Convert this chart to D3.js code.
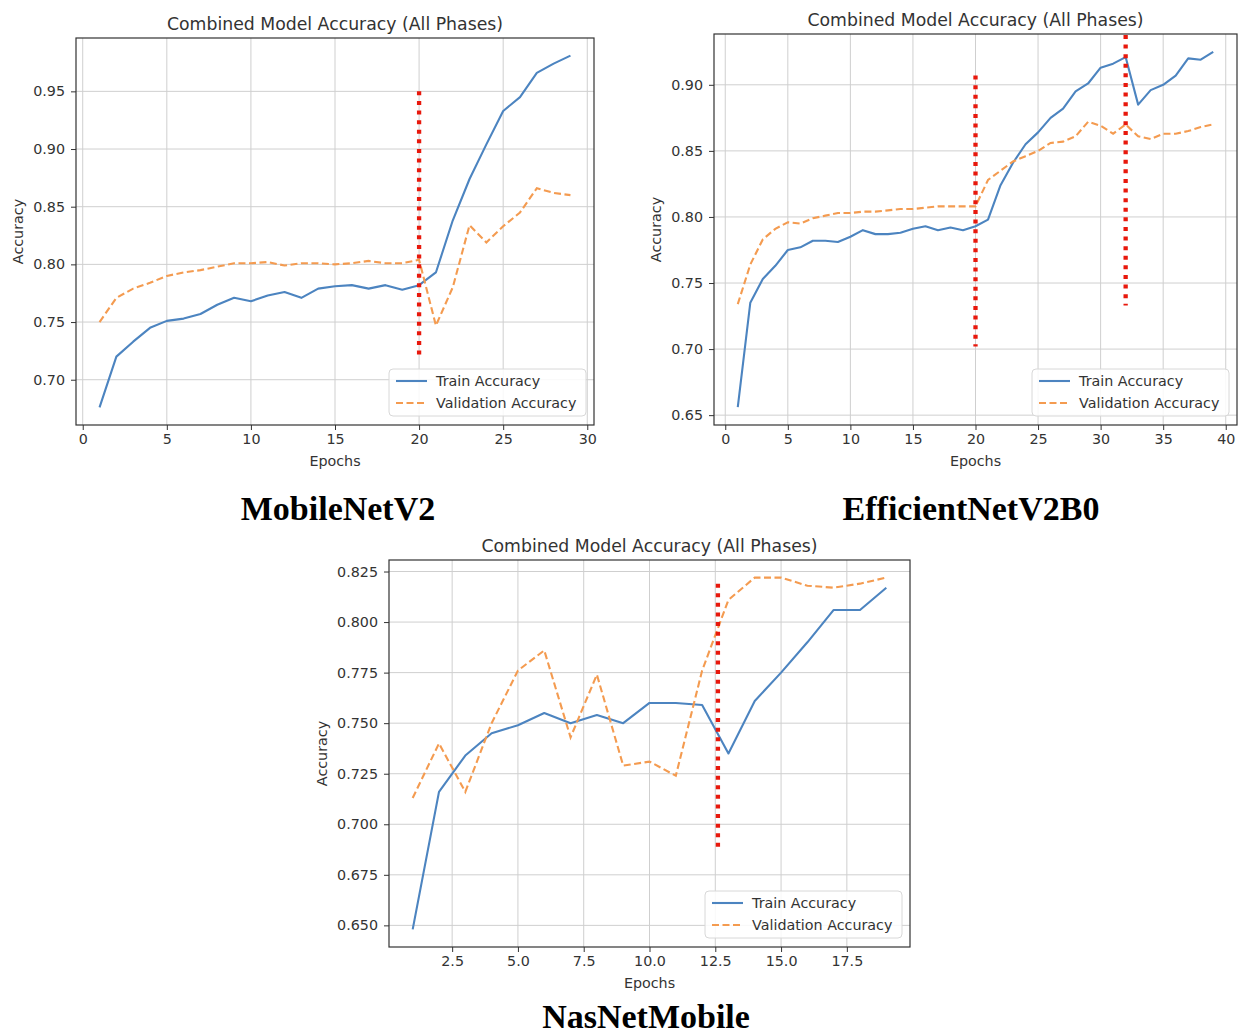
<!DOCTYPE html>
<html>
<head>
<meta charset="utf-8">
<script src="https://cdn.jsdelivr.net/npm/d3@7"></script>
<style>
  body { margin: 0; background: #fff; }
  svg { display: block; }
  text { font-family: "DejaVu Sans", sans-serif; fill: #333; }
  .caption { font-family: "Liberation Serif", "Times New Roman", serif; font-weight: bold; fill: #000; }
</style>
</head>
<body>
<svg id="chart" width="1238" height="1034"></svg>
<script>
// MobileNetV2, epochs 1..29
const mobileEpochs = d3.range(1, 30);
const mobileTrain = [0.676, 0.720, 0.733, 0.745, 0.751, 0.753, 0.757, 0.765, 0.771, 0.768,
  0.773, 0.776, 0.771, 0.779, 0.781, 0.782, 0.779, 0.782, 0.778, 0.782,
  0.793, 0.838, 0.874, 0.904, 0.933, 0.945, 0.966, 0.974, 0.981];
const mobileVal = [0.750, 0.771, 0.779, 0.784, 0.790, 0.793, 0.795, 0.798, 0.801, 0.801,
  0.802, 0.799, 0.801, 0.801, 0.800, 0.801, 0.803, 0.801, 0.801, 0.804,
  0.747, 0.780, 0.834, 0.819, 0.833, 0.845, 0.866, 0.862, 0.860];
const mobilePhases = [{ x: 20, y0: 0.718, y1: 0.950 }];
const mobileXTicks = [0, 5, 10, 15, 20, 25, 30];
const mobileYTicks = [0.70, 0.75, 0.80, 0.85, 0.90, 0.95];

// EfficientNetV2B0, epochs 1..39
const effEpochs = d3.range(1, 40);
const effTrain = [0.656, 0.735, 0.753, 0.763, 0.775, 0.777, 0.782, 0.782, 0.781, 0.785,
  0.790, 0.787, 0.787, 0.788, 0.791, 0.793, 0.790, 0.792, 0.790, 0.793,
  0.798, 0.824, 0.841, 0.855, 0.864, 0.875, 0.882, 0.895, 0.901, 0.913,
  0.916, 0.921, 0.885, 0.896, 0.900, 0.907, 0.920, 0.919, 0.925];
const effVal = [0.734, 0.764, 0.783, 0.791, 0.796, 0.795, 0.799, 0.801, 0.803, 0.803,
  0.804, 0.804, 0.805, 0.806, 0.806, 0.807, 0.808, 0.808, 0.808, 0.808,
  0.828, 0.835, 0.842, 0.846, 0.850, 0.856, 0.857, 0.861, 0.872, 0.869,
  0.863, 0.870, 0.861, 0.859, 0.863, 0.863, 0.865, 0.868, 0.870];
const effPhases = [{ x: 20, y0: 0.702, y1: 0.907 }, { x: 32, y0: 0.733, y1: 0.945 }];
const effXTicks = [0, 5, 10, 15, 20, 25, 30, 35, 40];
const effYTicks = [0.65, 0.70, 0.75, 0.80, 0.85, 0.90];

// NasNetMobile, epochs 1..19
const nasEpochs = d3.range(1, 20);
const nasTrain = [0.648, 0.716, 0.734, 0.745, 0.749, 0.755, 0.750, 0.754, 0.750, 0.760,
  0.760, 0.759, 0.735, 0.761, 0.775, 0.790, 0.806, 0.806, 0.817];
const nasVal = [0.713, 0.740, 0.716, 0.750, 0.776, 0.786, 0.743, 0.774, 0.729, 0.731,
  0.724, 0.776, 0.811, 0.822, 0.822, 0.818, 0.817, 0.819, 0.822];
const nasPhases = [{ x: 12.6, y0: 0.686, y1: 0.819 }];
const nasXTicks = [2.5, 5.0, 7.5, 10.0, 12.5, 15.0, 17.5];
const nasYTicks = [0.650, 0.675, 0.700, 0.725, 0.750, 0.775, 0.800, 0.825];

const seriesNames = ['Train Accuracy', 'Validation Accuracy'];
const titleText = 'Combined Model Accuracy (All Phases)';

const blue = '#4c84c0';
const orange = '#f49b50';
const red = '#e8180c';
const fs = 14.3;

const svg = d3.select('#chart');

function panel(opt) {
  const { box, epochs, train, val, phases, xTicks, yTicks, xFmt, yFmt, caption } = opt;
  const [left, top, right, bottom] = box;

  // matplotlib-style 5% margins around the data
  const xExt = d3.extent(epochs);
  const xPad = (xExt[1] - xExt[0]) * 0.05;
  const yExt = d3.extent(train.concat(val));
  const yPad = (yExt[1] - yExt[0]) * 0.05;

  const x = d3.scaleLinear().domain([xExt[0] - xPad, xExt[1] + xPad]).range([left, right]);
  const y = d3.scaleLinear().domain([yExt[0] - yPad, yExt[1] + yPad]).range([bottom, top]);

  const g = svg.append('g');
  const clipId = 'clip' + Math.round(left);
  g.append('clipPath').attr('id', clipId)
    .append('rect').attr('x', left).attr('y', top).attr('width', right - left).attr('height', bottom - top);

  // grid
  g.append('g').attr('stroke', '#cfcfcf').attr('stroke-width', 1)
    .selectAll('line').data(xTicks).join('line')
    .attr('x1', d => x(d)).attr('x2', d => x(d)).attr('y1', top).attr('y2', bottom);
  g.append('g').attr('stroke', '#cfcfcf').attr('stroke-width', 1)
    .selectAll('line').data(yTicks).join('line')
    .attr('y1', d => y(d)).attr('y2', d => y(d)).attr('x1', left).attr('x2', right);

  const plot = g.append('g').attr('clip-path', `url(#${clipId})`);
  const line = d3.line().x(d => x(d[0])).y(d => y(d[1]));

  plot.append('path')
    .datum(epochs.map((e, i) => [e, train[i]]))
    .attr('fill', 'none').attr('stroke', blue).attr('stroke-width', 2.1)
    .attr('stroke-linejoin', 'round')
    .attr('d', line);

  plot.append('path')
    .datum(epochs.map((e, i) => [e, val[i]]))
    .attr('fill', 'none').attr('stroke', orange).attr('stroke-width', 2.1)
    .attr('stroke-dasharray', '7,3.5')
    .attr('d', line);

  plot.selectAll('line.phase').data(phases).join('line')
    .attr('class', 'phase')
    .attr('x1', d => x(d.x)).attr('x2', d => x(d.x))
    .attr('y1', d => y(d.y1)).attr('y2', d => y(d.y0))
    .attr('stroke', red).attr('stroke-width', 4.3)
    .attr('stroke-dasharray', '4,5.6');

  // axes
  const xAxis = g.append('g').attr('transform', `translate(0,${bottom})`)
    .call(d3.axisBottom(x).tickValues(xTicks).tickFormat(d3.format(xFmt)).tickSize(5).tickPadding(4));
  const yAxis = g.append('g').attr('transform', `translate(${left},0)`)
    .call(d3.axisLeft(y).tickValues(yTicks).tickFormat(d3.format(yFmt)).tickSize(5).tickPadding(6));
  [xAxis, yAxis].forEach(a => {
    a.select('.domain').remove();
    a.selectAll('line').attr('stroke', '#333');
    a.selectAll('text').attr('font-size', fs).attr('fill', '#333')
      .attr('font-family', '"DejaVu Sans", sans-serif');
  });

  // frame
  g.append('rect').attr('x', left).attr('y', top).attr('width', right - left).attr('height', bottom - top)
    .attr('fill', 'none').attr('stroke', '#333').attr('stroke-width', 1.2);

  // labels
  g.append('text').attr('x', (left + right) / 2).attr('y', top - 8)
    .attr('text-anchor', 'middle').attr('font-size', 17.3).text(titleText);
  g.append('text').attr('x', (left + right) / 2).attr('y', bottom + 41)
    .attr('text-anchor', 'middle').attr('font-size', fs).text('Epochs');
  const yb = yAxis.node().getBBox();
  g.append('text')
    .attr('transform', `translate(${left + yb.x - 10},${(top + bottom) / 2}) rotate(-90)`)
    .attr('text-anchor', 'middle').attr('font-size', fs).text('Accuracy');

  // legend, lower right
  const lw = 197, lh = 47;
  const lx = right - 8 - lw, ly = bottom - 9 - lh;
  const leg = g.append('g').attr('transform', `translate(${lx},${ly})`);
  leg.append('rect').attr('width', lw).attr('height', lh).attr('rx', 4)
    .attr('fill', '#fff').attr('fill-opacity', 0.85).attr('stroke', '#d8d8d8');
  const items = leg.selectAll('g').data(seriesNames).join('g')
    .attr('transform', (d, i) => `translate(0,${12 + i * 22})`);
  items.append('line').attr('x1', 7).attr('x2', 38)
    .attr('stroke', (d, i) => i === 0 ? blue : orange).attr('stroke-width', 2.1)
    .attr('stroke-dasharray', (d, i) => i === 0 ? null : '7,3.5');
  items.append('text').attr('x', 47).attr('dy', '0.35em').attr('font-size', fs).text(d => d);

  svg.append('text').attr('class', 'caption')
    .attr('x', opt.capX).attr('y', opt.capY)
    .attr('text-anchor', 'middle').attr('font-size', 34).text(caption);
}

panel({
  box: [76, 38, 594, 425], epochs: mobileEpochs, train: mobileTrain, val: mobileVal,
  phases: mobilePhases, xTicks: mobileXTicks, yTicks: mobileYTicks, xFmt: 'd', yFmt: '.2f',
  caption: 'MobileNetV2', capX: 338, capY: 520
});
panel({
  box: [714, 34, 1237, 425], epochs: effEpochs, train: effTrain, val: effVal,
  phases: effPhases, xTicks: effXTicks, yTicks: effYTicks, xFmt: 'd', yFmt: '.2f',
  caption: 'EfficientNetV2B0', capX: 971, capY: 520
});
panel({
  box: [389, 560, 910, 947], epochs: nasEpochs, train: nasTrain, val: nasVal,
  phases: nasPhases, xTicks: nasXTicks, yTicks: nasYTicks, xFmt: '.1f', yFmt: '.3f',
  caption: 'NasNetMobile', capX: 646, capY: 1028
});
</script>
</body>
</html>
